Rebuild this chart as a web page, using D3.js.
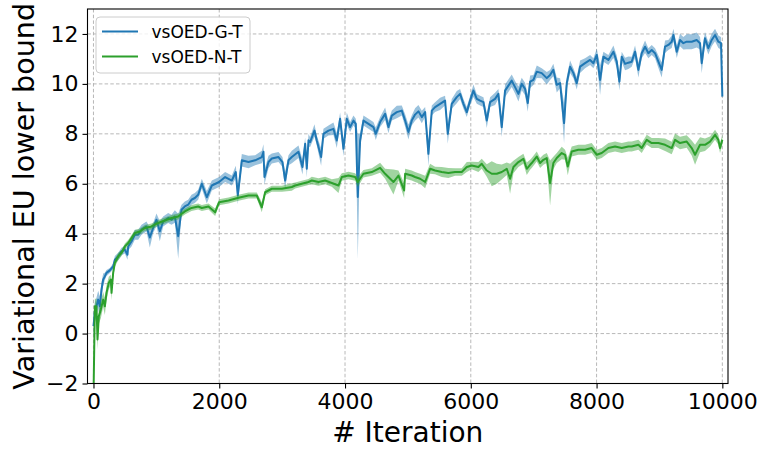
<!DOCTYPE html>
<html>
<head>
<meta charset="utf-8">
<script src="https://cdn.jsdelivr.net/npm/d3@7/dist/d3.min.js"></script>
<style>
  body { margin: 0; background: #fff; }
  svg { display: block; }
  text { font-family: "DejaVu Sans", sans-serif; fill: #000; }
</style>
</head>
<body>
<svg id="chart" width="761" height="450"></svg>
<script>
// ---- vsOED-G-T : training iteration, mean bound, spread of the shaded band ----
const gtIter = [0, 22, 48, 75, 101, 128, 154, 181, 207, 260, 313, 340, 393, 446, 499, 541, 552, 605, 658, 711,
  764, 843, 896, 949, 1002, 1055, 1108, 1188, 1241, 1294, 1347, 1400, 1453, 1506, 1559, 1612, 1665, 1723, 1802, 1882,
  1998, 2094, 2200, 2263, 2295, 2359, 2465, 2571, 2677, 2703, 2719, 2783, 2836, 2942, 3005, 3048, 3101, 3154, 3260, 3323,
  3366, 3392, 3419, 3445, 3514, 3551, 3620, 3657, 3737, 3816, 3869, 3922, 3975, 4028, 4081, 4134, 4171, 4203, 4240, 4293,
  4373, 4452, 4489, 4558, 4638, 4690, 4744, 4823, 4903, 4956, 5008, 5061, 5114, 5167, 5221, 5274, 5326, 5380, 5432, 5512,
  5591, 5634, 5697, 5777, 5830, 5883, 5936, 5989, 6042, 6095, 6148, 6201, 6254, 6307, 6386, 6439, 6492, 6545, 6598, 6651,
  6704, 6757, 6810, 6863, 6906, 6943, 6996, 7049, 7128, 7208, 7261, 7313, 7367, 7420, 7483, 7526, 7579, 7632, 7685, 7738,
  7817, 7897, 7950, 8003, 8056, 8109, 8188, 8268, 8321, 8363, 8400, 8453, 8506, 8559, 8612, 8665, 8718, 8771, 8824, 8877,
  8930, 8983, 9036, 9089, 9142, 9195, 9222, 9275, 9327, 9380, 9433, 9513, 9592, 9645, 9672, 9724, 9777, 9831, 9884, 9937,
  9979, 10000];
const gtMean = [0.3, 0.83, 1.09, 1.36, 1.09, 1.76, 2.16, 2.29, 2.43, 2.53, 2.69, 2.96, 3.09, 3.29, 3.36, 3.16, 3.49, 3.69, 3.96, 3.96,
  4.16, 4.29, 3.85, 4.23, 4.56, 4.1, 4.49, 4.63, 4.56, 4.69, 3.9, 4.96, 5.09, 5.16, 5.36, 5.43, 5.56, 6.0, 5.46, 5.93,
  6.07, 6.27, 6.13, 6.47, 5.53, 6.94, 6.87, 6.94, 7.07, 7.28, 6.27, 6.87, 7.01, 7.07, 6.87, 6.13, 6.94, 7.07, 7.28, 6.67,
  7.6, 6.6, 7.74, 7.67, 8.13, 7.73, 7.07, 8.0, 8.13, 8.2, 7.73, 8.6, 7.4, 8.6, 8.27, 8.53, 8.4, 5.47, 7.73, 8.53,
  8.4, 8.27, 8.0, 8.47, 8.8, 8.27, 8.73, 8.87, 8.93, 8.53, 8.07, 8.53, 8.77, 8.9, 8.67, 8.87, 7.2, 8.93, 9.07, 9.2,
  9.33, 8.0, 9.2, 9.47, 9.6, 9.2, 8.87, 9.33, 9.73, 9.4, 9.33, 9.27, 8.53, 9.27, 9.4, 9.6, 8.27, 9.73, 9.93, 10.13,
  9.87, 9.6, 10.0, 9.8, 9.23, 10.09, 10.16, 10.49, 10.43, 10.23, 10.36, 10.56, 9.96, 10.03, 8.43, 10.03, 10.69, 10.43, 10.03, 10.69,
  10.83, 10.96, 10.83, 11.16, 10.16, 11.09, 10.96, 11.29, 10.89, 10.09, 11.09, 10.8, 10.85, 10.89, 11.29, 10.56, 11.23, 11.49, 11.23, 11.36,
  11.23, 10.89, 10.56, 11.49, 11.56, 11.69, 11.96, 11.29, 11.76, 11.63, 11.69, 11.69, 11.76, 11.63, 10.83, 11.83, 11.43, 11.76, 11.96, 11.69,
  11.63, 9.49];
const gtSpread = [0.5, 0.4, 0.35, 0.35, 0.4, 0.3, 0.25, 0.15, 0.12, 0.1, 0.12, 0.15, 0.15, 0.15, 0.15, 0.2, 0.15, 0.2, 0.2, 0.2,
  0.2, 0.2, 0.4, 0.2, 0.25, 0.4, 0.2, 0.2, 0.2, 0.25, 0.9, 0.2, 0.2, 0.2, 0.2, 0.2, 0.2, 0.2, 0.25, 0.2,
  0.2, 0.2, 0.2, 0.25, 0.35, 0.25, 0.25, 0.2, 0.25, 0.3, 0.3, 0.25, 0.2, 0.2, 0.2, 0.35, 0.2, 0.25, 0.25, 0.3,
  0.25, 0.35, 0.25, 0.2, 0.25, 0.2, 0.35, 0.2, 0.2, 0.25, 0.3, 0.25, 0.3, 0.25, 0.2, 0.2, 0.2, 2.5, 0.3, 0.2,
  0.2, 0.2, 0.25, 0.2, 0.25, 0.25, 0.2, 0.25, 0.2, 0.25, 0.3, 0.2, 0.25, 0.25, 0.25, 0.2, 0.5, 0.2, 0.2, 0.25,
  0.2, 0.4, 0.2, 0.25, 0.2, 0.2, 0.2, 0.2, 0.25, 0.2, 0.2, 0.2, 0.3, 0.2, 0.25, 0.2, 0.4, 0.25, 0.25, 0.25,
  0.25, 0.3, 0.25, 0.25, 0.35, 0.25, 0.2, 0.25, 0.2, 0.25, 0.2, 0.25, 0.3, 0.2, 0.8, 0.25, 0.25, 0.2, 0.25, 0.25,
  0.2, 0.2, 0.2, 0.25, 0.6, 0.2, 0.2, 0.25, 0.25, 0.35, 0.2, 0.25, 0.25, 0.2, 0.25, 0.3, 0.2, 0.25, 0.2, 0.2,
  0.2, 0.25, 0.3, 0.25, 0.2, 0.25, 0.25, 0.25, 0.25, 0.25, 0.3, 0.3, 0.3, 0.25, 0.4, 0.25, 0.25, 0.25, 0.25, 0.25,
  0.25, 0.2];

// ---- vsOED-N-T ----
const ntIter = [0, 22, 48, 64, 85, 117, 154, 181, 207, 244, 276, 287, 313, 340, 393, 446, 499, 552, 605, 658,
  737, 817, 923, 1029, 1135, 1241, 1347, 1453, 1559, 1665, 1723, 1829, 1935, 1998, 2147, 2306, 2465, 2597, 2677, 2730,
  2836, 2995, 3154, 3207, 3313, 3419, 3472, 3578, 3684, 3790, 3896, 3949, 4055, 4161, 4203, 4293, 4426, 4558, 4638, 4770,
  4850, 4940, 4956, 5061, 5114, 5194, 5274, 5353, 5432, 5538, 5644, 5750, 5856, 5936, 6015, 6121, 6174, 6254, 6333, 6413,
  6492, 6572, 6625, 6678, 6757, 6837, 6890, 6943, 6969, 7049, 7102, 7155, 7208, 7261, 7313, 7367, 7446, 7499, 7542, 7605,
  7711, 7817, 7923, 8003, 8082, 8188, 8294, 8400, 8506, 8559, 8665, 8718, 8798, 8877, 8983, 9089, 9195, 9248, 9327, 9433,
  9513, 9566, 9645, 9724, 9804, 9884, 9937, 9963, 10000];
const ntMean = [-2.6, 1.09, 1.09, -0.24, 0.69, 0.96, 1.36, 1.09, 1.63, 2.03, 2.16, 1.63, 2.43, 2.83, 3.09, 3.23, 3.49, 3.63, 3.83, 4.03,
  4.09, 4.23, 4.29, 4.43, 4.53, 4.63, 4.69, 4.89, 5.03, 5.09, 5.03, 5.09, 4.86, 5.26, 5.33, 5.44, 5.53, 5.53, 5.06, 5.66,
  5.8, 5.8, 5.87, 5.93, 6.0, 6.07, 6.13, 6.07, 6.13, 6.03, 5.93, 6.27, 6.33, 6.27, 6.07, 6.4, 6.47, 6.64, 6.4, 6.07,
  6.33, 5.73, 6.4, 6.33, 6.27, 6.2, 6.07, 6.6, 6.53, 6.47, 6.43, 6.47, 6.47, 6.67, 6.73, 6.67, 6.8, 6.53, 6.4, 6.4,
  6.47, 6.6, 6.2, 6.67, 6.87, 7.0, 6.6, 6.76, 6.83, 7.09, 6.83, 6.96, 7.03, 6.03, 6.83, 7.03, 7.23, 7.16, 6.69, 7.29,
  7.36, 7.36, 7.43, 7.16, 7.23, 7.43, 7.49, 7.43, 7.49, 7.49, 7.56, 7.43, 7.76, 7.63, 7.63, 7.56, 7.43, 7.76, 7.63, 7.69,
  7.43, 7.16, 7.56, 7.56, 7.69, 7.96, 7.76, 7.43, 7.76];
const ntSpread = [0.3, 0.3, 0.3, 0.4, 0.3, 0.35, 0.3, 0.35, 0.3, 0.25, 0.2, 0.3, 0.2, 0.15, 0.15, 0.12, 0.12, 0.12, 0.12, 0.12,
  0.12, 0.12, 0.12, 0.12, 0.12, 0.12, 0.12, 0.12, 0.12, 0.12, 0.12, 0.12, 0.15, 0.12, 0.12, 0.12, 0.12, 0.12, 0.2, 0.12,
  0.12, 0.12, 0.15, 0.12, 0.12, 0.12, 0.15, 0.15, 0.15, 0.15, 0.3, 0.15, 0.15, 0.15, 0.2, 0.15, 0.15, 0.2, 0.2, 0.5,
  0.2, 0.3, 0.2, 0.2, 0.2, 0.2, 0.25, 0.2, 0.15, 0.2, 0.2, 0.15, 0.15, 0.2, 0.15, 0.2, 0.2, 0.25, 0.5, 0.4,
  0.3, 0.25, 0.6, 0.25, 0.2, 0.2, 0.25, 0.2, 0.2, 0.2, 0.2, 0.2, 0.2, 0.9, 0.25, 0.2, 0.25, 0.2, 0.35, 0.2,
  0.2, 0.2, 0.2, 0.2, 0.2, 0.2, 0.2, 0.2, 0.2, 0.2, 0.2, 0.2, 0.2, 0.2, 0.2, 0.25, 0.25, 0.25, 0.25, 0.25,
  0.3, 0.4, 0.3, 0.25, 0.2, 0.2, 0.2, 0.2, 0.2];

const xTicks = [0, 2000, 4000, 6000, 8000, 10000];
const yTicks = [-2, 0, 2, 4, 6, 8, 10, 12];
const seriesNames = ["vsOED-G-T", "vsOED-N-T"];
const seriesColors = ["#1f77b4", "#2ca02c"];

// ---- layout ----
const svg = d3.select("#chart");
const plotLeft = 87.5, plotRight = 728, plotTop = 9, plotBottom = 383.5;

const x = d3.scaleLinear().domain([-95, 10090]).range([plotLeft, plotRight]);
const y = d3.scaleLinear().domain([-2, 13]).range([plotBottom, plotTop]);

svg.append("defs").append("clipPath").attr("id", "plotClip")
  .append("rect").attr("x", plotLeft).attr("y", plotTop)
  .attr("width", plotRight - plotLeft).attr("height", plotBottom - plotTop);

// grid
const grid = svg.append("g").attr("stroke", "#b0b0b0").attr("stroke-width", 0.9)
  .attr("stroke-dasharray", "3.5,2.2");
grid.selectAll(".gx").data(xTicks).join("line").attr("class", "gx")
  .attr("x1", d => x(d)).attr("x2", d => x(d)).attr("y1", plotTop).attr("y2", plotBottom);
grid.selectAll(".gy").data(yTicks).join("line").attr("class", "gy")
  .attr("x1", plotLeft).attr("x2", plotRight).attr("y1", d => y(d)).attr("y2", d => y(d));

// series: shaded spread band, then the mean line
function drawSeries(iters, means, spreads, color) {
  const n = Math.min(iters.length, means.length, spreads.length);
  const pts = d3.range(n).map(i => ({ it: iters[i], m: means[i], s: spreads[i] }));
  const g = svg.append("g").attr("clip-path", "url(#plotClip)");
  g.append("path").datum(pts)
    .attr("fill", color).attr("fill-opacity", 0.45).attr("stroke", "none")
    .attr("d", d3.area().x(d => x(d.it)).y0(d => y(d.m - d.s)).y1(d => y(d.m + d.s)));
  g.append("path").datum(pts)
    .attr("fill", "none").attr("stroke", color).attr("stroke-width", 2)
    .attr("stroke-linejoin", "round")
    .attr("d", d3.line().x(d => x(d.it)).y(d => y(d.m)));
}
drawSeries(gtIter, gtMean, gtSpread, seriesColors[0]);
drawSeries(ntIter, ntMean, ntSpread, seriesColors[1]);

// axes
const xAxis = svg.append("g").attr("transform", `translate(0,${plotBottom})`)
  .call(d3.axisBottom(x).tickValues(xTicks).tickFormat(d3.format("d")).tickSize(5).tickPadding(4.5));
const yAxis = svg.append("g").attr("transform", `translate(${plotLeft},0)`)
  .call(d3.axisLeft(y).tickValues(yTicks).tickFormat(d => d < 0 ? "\u2212" + Math.abs(d) : d).tickSize(5).tickPadding(4));
[xAxis, yAxis].forEach(a => {
  a.select(".domain").remove();
  a.selectAll(".tick line").attr("stroke", "#000").attr("stroke-width", 1.1);
  a.selectAll(".tick text").attr("font-size", 22).attr("font-family", "DejaVu Sans, sans-serif").attr("fill", "#000");
});

// frame
svg.append("rect").attr("x", plotLeft).attr("y", plotTop)
  .attr("width", plotRight - plotLeft).attr("height", plotBottom - plotTop)
  .attr("fill", "none").attr("stroke", "#000").attr("stroke-width", 1.1);

// axis titles
svg.append("text").attr("x", (plotLeft + plotRight) / 2).attr("y", 442)
  .attr("text-anchor", "middle").attr("font-size", 28).text("# Iteration");
svg.append("text").attr("transform", `translate(34,${(plotTop + plotBottom) / 2}) rotate(-90)`)
  .attr("text-anchor", "middle").attr("font-size", 28.6).text("Variational EU lower bound");

// legend
const lg = svg.append("g");
lg.append("rect").attr("x", 96).attr("y", 17).attr("width", 154).attr("height", 56).attr("rx", 4)
  .attr("fill", "#fff").attr("fill-opacity", 0.8).attr("stroke", "#cccccc").attr("stroke-width", 1);
seriesNames.forEach((name, i) => {
  const cy = 31.5 + i * 25;
  lg.append("line").attr("x1", 102).attr("x2", 138).attr("y1", cy).attr("y2", cy)
    .attr("stroke", seriesColors[i]).attr("stroke-width", 2);
  lg.append("text").attr("x", 151.5).attr("y", cy + 6.2).attr("font-size", 17).text(name);
});
</script>
</body>
</html>
